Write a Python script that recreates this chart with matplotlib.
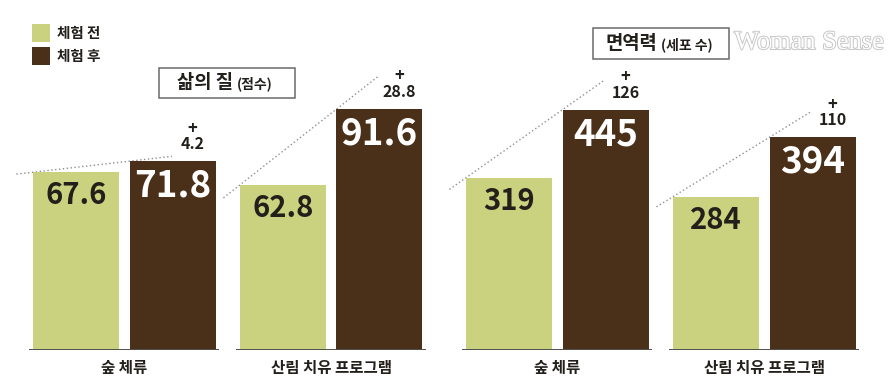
import matplotlib
matplotlib.use("Agg")
import matplotlib.pyplot as plt
from matplotlib.patches import Rectangle
import matplotlib.patheffects as pe

plt.rcParams['font.family'] = ['Noto Sans CJK KR', 'DejaVu Sans']

# ---- data ----
categories = ['숲 체류', '산림 치유 프로그램']
series_names = ['체험 전', '체험 후']
quality_before = [67.6, 62.8]
quality_after = [71.8, 91.6]
immune_before = [319, 284]
immune_after = [445, 394]
panel_titles = [('삶의 질', '(점수)'), ('면역력', '(세포 수)')]

GREEN = '#cbd27f'
BROWN = '#4a3019'
DARK = '#231f1a'

W, H = 895, 388
fig = plt.figure(figsize=(W / 100, H / 100), dpi=100)

def fx(px):
    return px / W

def fy(py):
    return 1 - py / H

unit = 207.0
bar_w = 86 / unit
off = 48.25 / unit
base_py = 350

def make_panel(center_px, before, after, px_per_val, fmt):
    left_px = center_px - 0.6 * unit
    ax = fig.add_axes([fx(left_px), (H - base_py) / H, 2.2 * unit / W, base_py / H])
    ax.set_xlim(-0.6, 1.6)
    ax.set_ylim(0, base_py / px_per_val)
    ax.axis('off')
    xs = list(range(len(categories)))
    xb = [x - off for x in xs]
    xa = [x + off for x in xs]
    ax.bar(xb, before, width=bar_w, color=GREEN, zorder=2)
    ax.bar(xa, after, width=bar_w, color=BROWN, zorder=2)
    for i, x in enumerate(xs):
        ax.hlines(0, x - 0.459, x + 0.459, color='#505050', lw=1.4, zorder=3)
        ax.annotate(categories[i], (x, 0), xytext=(0, -13), textcoords='offset points',
                    ha='center', va='center', fontsize=11.2, fontweight='bold', color=DARK)
        ax.annotate(fmt(before[i]), (xb[i], before[i]), xytext=(0, -16.5),
                    textcoords='offset points', ha='center', va='center',
                    fontsize=21, fontweight='bold', color=DARK, zorder=4)
        ax.annotate(fmt(after[i]), (xa[i], after[i]), xytext=(0, -18),
                    textcoords='offset points', ha='center', va='center',
                    fontsize=26.5, fontweight='bold', color='white', zorder=4)
        diff = after[i] - before[i]
        ax.annotate(fmt(diff), (xa[i], after[i]), xytext=(14.4, 12.2),
                    textcoords='offset points', ha='center', va='center',
                    fontsize=11.5, fontweight='bold', color=DARK)
        ax.annotate('+', (xa[i], after[i]), xytext=(14.4, 23.5),
                    textcoords='offset points', ha='center', va='center',
                    fontsize=12, fontweight='bold', color=DARK)
        # dotted growth line through the top-left corners of both bars
        x0 = xb[i] - bar_w / 2
        x1 = xa[i] - bar_w / 2
        slope = (after[i] - before[i]) / (x1 - x0)
        sx, ex = x0 - 0.08, x1 + 0.205
        ax.plot([sx, ex], [before[i] + slope * (sx - x0), before[i] + slope * (ex - x0)],
                color='#8f8f8f', lw=1.0, ls=(0, (1, 1.8)), zorder=1, clip_on=False)
    return ax

make_panel(124.25, quality_before, quality_after, 2.63, lambda v: f'{v:.1f}')
make_panel(557.25, immune_before, immune_after, 0.54, lambda v: f'{v:.0f}')

# legend
for (name, col, cy) in [(series_names[0], GREEN, 33), (series_names[1], BROWN, 55.5)]:
    fig.add_artist(Rectangle((fx(32), fy(cy + 9)), 18 / W, 18 / H, transform=fig.transFigure,
                             facecolor=col, edgecolor='none'))
    fig.text(fx(57), fy(cy), name, ha='left', va='center', fontsize=10.5,
             fontweight='bold', color=DARK)

# panel title boxes
boxes = [(159, 68, 295, 98, 233.5, 237), (593, 28, 729, 59, 657.5, 661)]
for (t, (x0, y0, x1, y1, xm, xp)) in zip(panel_titles, boxes):
    fig.add_artist(Rectangle((fx(x0), fy(y1)), (x1 - x0) / W, (y1 - y0) / H,
                             transform=fig.transFigure, facecolor='white',
                             edgecolor='#6a6a6a', lw=1.1))
    cy = (y0 + y1) / 2
    fig.text(fx(xm), fy(cy), t[0], ha='right', va='center', fontsize=13.5,
             fontweight='bold', color=DARK)
    fig.text(fx(xp), fy(cy + 1), t[1], ha='left', va='center', fontsize=10,
             fontweight='bold', color=DARK)

# watermark
fig.text(fx(809), fy(43), 'Woman Sense', ha='center', va='center', fontsize=19,
         family='Liberation Serif', color='white',
         path_effects=[pe.withStroke(linewidth=1.3, foreground='#c4c4c4')])

fig.savefig('out.png', dpi=100)
